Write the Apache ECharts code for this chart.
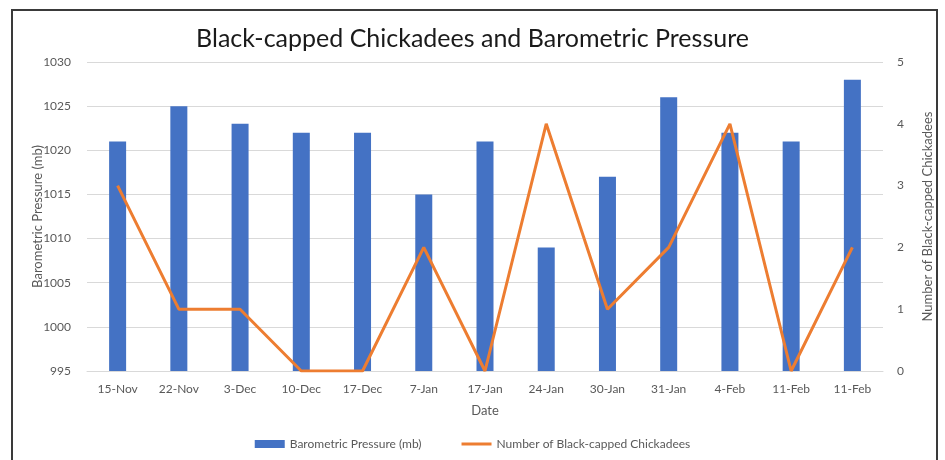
<!DOCTYPE html>
<html>
<head>
<meta charset="utf-8">
<script src="https://cdn.jsdelivr.net/npm/echarts@6/dist/echarts.min.js"></script>
<style>
  html, body { margin: 0; padding: 0; background: #fff; }
  .frame {
    position: absolute; left: 11px; top: 9px; width: 927px; height: 470px;
    border: 2px solid #3a3a3a; box-sizing: border-box;
  }
  #chart { position: absolute; left: 0; top: 0; width: 945px; height: 460px; }
</style>
</head>
<body>
<div class="frame"></div>
<div id="chart"></div>
<script>
// 日期类目
const dates = ["15-Nov", "22-Nov", "3-Dec", "10-Dec", "17-Dec", "7-Jan", "17-Jan",
  "24-Jan", "30-Jan", "31-Jan", "4-Feb", "11-Feb", "11-Feb"];
// 气压 (mb)
const pressure = [1021, 1025, 1023, 1022, 1022, 1015, 1021, 1009, 1017, 1026, 1022, 1021, 1028];
// 山雀数量
const chickadees = [3, 1, 1, 0, 0, 2, 0, 4, 1, 2, 4, 0, 2];

const font = "Lato, 'Open Sans', sans-serif";
const labelColor = "#595959";

let myChart = echarts.init(document.getElementById("chart"));
let option = {
  animation: false,
  textStyle: { fontFamily: font },
  title: {
    text: "Black-capped Chickadees and Barometric Pressure",
    left: "center",
    top: 21,
    textStyle: { fontFamily: font, fontSize: 25, fontWeight: "normal", color: "#1a1a1a" },
  },
  grid: { left: 87, right: 62, top: 62, bottom: 89 },
  legend: {
    bottom: 5,
    left: "center",
    itemWidth: 30,
    itemHeight: 8,
    itemGap: 40,
    textStyle: { fontFamily: font, fontSize: 12, color: labelColor },
    data: [
      { name: "Barometric Pressure (mb)", icon: "rect" },
      { name: "Number of Black-capped Chickadees", icon: "path://M0 0h30v3H0z" },
    ],
  },
  xAxis: {
    type: "category",
    data: dates,
    name: "Date",
    nameLocation: "middle",
    nameGap: 33,
    nameTextStyle: { fontFamily: font, fontSize: 13, color: labelColor },
    axisLine: { lineStyle: { color: "#d9d9d9" } },
    axisTick: { show: false },
    axisLabel: { color: labelColor, fontSize: 12, margin: 12, interval: 0 },
  },
  yAxis: [
    {
      type: "value",
      min: 995,
      max: 1030,
      interval: 5,
      name: "Barometric Pressure (mb)",
      nameLocation: "middle",
      nameGap: 43,
      nameMoveOverlap: false,
      nameTextStyle: { fontFamily: font, fontSize: 13, color: labelColor },
      axisLabel: { color: labelColor, fontSize: 12, margin: 16, formatter: (v) => String(v) },
      splitLine: { lineStyle: { color: "#d9d9d9" } },
    },
    {
      type: "value",
      min: 0,
      max: 5,
      interval: 1,
      name: "Number of Black-capped Chickadees",
      nameLocation: "middle",
      nameGap: 38,
      nameTextStyle: { fontFamily: font, fontSize: 13, color: labelColor },
      axisLabel: { color: labelColor, fontSize: 12, margin: 14 },
      splitLine: { show: false },
    },
  ],
  series: [
    {
      name: "Barometric Pressure (mb)",
      type: "bar",
      data: pressure,
      barWidth: 17,
      itemStyle: { color: "#4472C4" },
    },
    {
      name: "Number of Black-capped Chickadees",
      type: "line",
      yAxisIndex: 1,
      data: chickadees,
      symbol: "none",
      lineStyle: { color: "#ED7D31", width: 3 },
      itemStyle: { color: "#ED7D31" },
    },
  ],
};
myChart.setOption(option);
</script>
</body>
</html>
